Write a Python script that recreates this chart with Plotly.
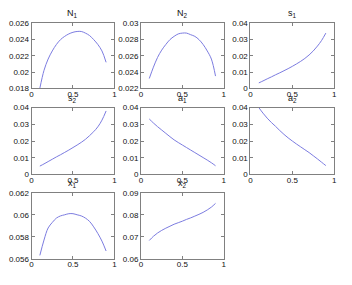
import plotly.graph_objects as go

x_vals = [0.1, 0.15, 0.2, 0.25, 0.3, 0.35, 0.4, 0.45, 0.5, 0.55, 0.6, 0.65, 0.7, 0.75, 0.8, 0.85, 0.9]

N1 = [0.0180, 0.0202, 0.0216, 0.0226, 0.0234, 0.0240, 0.0244, 0.0247, 0.0249, 0.0250, 0.0250, 0.0248, 0.0245, 0.0240, 0.0234, 0.0226, 0.0212]
N2 = [0.0232, 0.0246, 0.0258, 0.0267, 0.0274, 0.0280, 0.0284, 0.0287, 0.0288, 0.0288, 0.0286, 0.0284, 0.0280, 0.0274, 0.0266, 0.0256, 0.0235]
s1 = [0.0033, 0.0045, 0.0058, 0.0070, 0.0083, 0.0095, 0.0108, 0.0121, 0.0135, 0.0150, 0.0166, 0.0184, 0.0205, 0.0230, 0.0260, 0.0295, 0.0340]
s2 = [0.0050, 0.0063, 0.0077, 0.0091, 0.0105, 0.0118, 0.0132, 0.0146, 0.0161, 0.0176, 0.0192, 0.0210, 0.0232, 0.0256, 0.0285, 0.0325, 0.0380]
a1 = [0.0332, 0.0308, 0.0286, 0.0266, 0.0246, 0.0226, 0.0207, 0.0191, 0.0176, 0.0161, 0.0146, 0.0131, 0.0116, 0.0101, 0.0086, 0.0070, 0.0052]
a2 = [0.0400, 0.0367, 0.0337, 0.0311, 0.0288, 0.0263, 0.0240, 0.0219, 0.0200, 0.0182, 0.0165, 0.0148, 0.0131, 0.0112, 0.0093, 0.0073, 0.0053]
x1 = [0.0563, 0.0577, 0.0588, 0.0593, 0.0597, 0.0599, 0.0600, 0.0601, 0.0601, 0.0600, 0.0599, 0.0597, 0.0594, 0.0589, 0.0583, 0.0576, 0.0567]
x2 = [0.0683, 0.0702, 0.0717, 0.0729, 0.0739, 0.0748, 0.0757, 0.0764, 0.0771, 0.0779, 0.0786, 0.0794, 0.0802, 0.0811, 0.0822, 0.0835, 0.0852]

titles = ["N<sub>1</sub>", "N<sub>2</sub>", "s<sub>1</sub>", "s<sub>2</sub>",
          "a<sub>1</sub>", "a<sub>2</sub>", "x<sub>1</sub>", "x<sub>2</sub>"]
series = [N1, N2, s1, s2, a1, a2, x1, x2]

x_tickvals = [0, 0.5, 1]
x_ticktext = ["0", "0.5", "1"]

y_ticks = [
    ([0.018, 0.020, 0.022, 0.024, 0.026], ["0.018", "0.02", "0.022", "0.024", "0.026"]),
    ([0.022, 0.024, 0.026, 0.028, 0.030], ["0.022", "0.024", "0.026", "0.028", "0.03"]),
    ([0, 0.01, 0.02, 0.03, 0.04], ["0", "0.01", "0.02", "0.03", "0.04"]),
    ([0, 0.01, 0.02, 0.03, 0.04], ["0", "0.01", "0.02", "0.03", "0.04"]),
    ([0, 0.01, 0.02, 0.03, 0.04], ["0", "0.01", "0.02", "0.03", "0.04"]),
    ([0, 0.01, 0.02, 0.03, 0.04], ["0", "0.01", "0.02", "0.03", "0.04"]),
    ([0.056, 0.058, 0.060, 0.062], ["0.056", "0.058", "0.06", "0.062"]),
    ([0.06, 0.07, 0.08, 0.09], ["0.06", "0.07", "0.08", "0.09"]),
]

W, H = 352, 285
col_px = [(30, 114), (141, 225), (252, 337)]
row_px = [(20, 87), (107, 176), (195, 263)]

fig = go.Figure()
font = dict(family="Liberation Sans, Arial, sans-serif", size=8, color="#111")
annotations = []
for i, (ys, title, (tv, tt)) in enumerate(zip(series, titles, y_ticks)):
    r, c = divmod(i, 3)
    n = i + 1
    xa = "x" if n == 1 else f"x{n}"
    ya = "y" if n == 1 else f"y{n}"
    fig.add_trace(go.Scatter(x=x_vals, y=ys, mode="lines", xaxis=xa, yaxis=ya,
                             line=dict(color="#7c7ce0", width=1, shape="spline"),
                             showlegend=False, hoverinfo="skip"))
    x0, x1p = col_px[c]
    y0, y1p = row_px[r]
    xd = [x0 / W, x1p / W]
    yd = [1 - y1p / H, 1 - y0 / H]
    common = dict(showgrid=False, zeroline=False, showline=True, linecolor="#808080",
                  linewidth=1, mirror="ticks", ticks="inside", ticklen=3,
                  tickcolor="#808080", tickfont=font)
    fig.layout[("xaxis" if n == 1 else f"xaxis{n}")] = dict(
        domain=xd, range=[0, 1], tickvals=x_tickvals, ticktext=x_ticktext,
        anchor=ya, ticklabelstandoff=-2, **common)
    fig.layout[("yaxis" if n == 1 else f"yaxis{n}")] = dict(
        domain=yd, range=[tv[0], tv[-1]], tickvals=tv, ticktext=tt,
        anchor=xa, ticklabelstandoff=0, **common)
    annotations.append(dict(text=title, x=(xd[0] + xd[1]) / 2, y=yd[1],
                            xref="paper", yref="paper", xanchor="center",
                            yanchor="bottom", yshift=2, showarrow=False,
                            font=dict(family="Liberation Sans, Arial, sans-serif",
                                      size=9, color="#111")))

fig.update_layout(width=W, height=H, margin=dict(l=0, r=0, t=0, b=0),
                  paper_bgcolor="white", plot_bgcolor="white",
                  annotations=annotations)
fig.write_html("out.html")
